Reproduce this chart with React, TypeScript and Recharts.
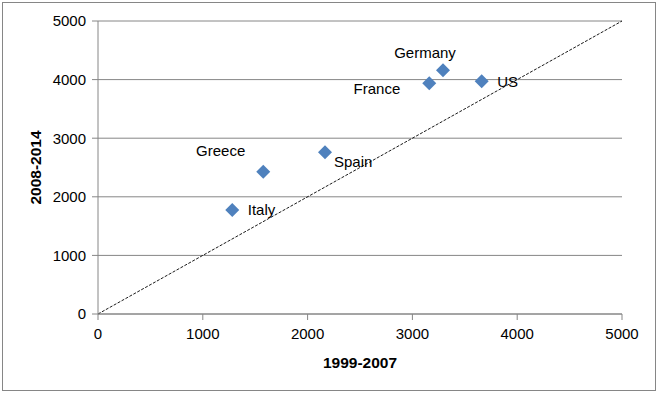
import React from 'react';
import { ScatterChart, Scatter, XAxis, YAxis, CartesianGrid, ReferenceLine } from 'recharts';

const countries = ['Italy', 'Greece', 'Spain', 'France', 'Germany', 'US'];
const period1999_2007 = [1281, 1577, 2166, 3161, 3292, 3661];
const period2008_2014 = [1775, 2428, 2759, 3937, 4159, 3971];
const axisTicks = [0, 1000, 2000, 3000, 4000, 5000];

const data = countries.map((name, i) => ({ name, x: period1999_2007[i], y: period2008_2014[i] }));

const labelPlacement: Record<string, { dx: number; dy: number; anchor: 'start' | 'middle' | 'end' }> = {
  Italy: { dx: 15.5, dy: 0, anchor: 'start' },
  Greece: { dx: -18, dy: -21.5, anchor: 'end' },
  Spain: { dx: 9, dy: 9.5, anchor: 'start' },
  France: { dx: -29, dy: 5, anchor: 'end' },
  Germany: { dx: -18, dy: -18, anchor: 'middle' },
  US: { dx: 15.5, dy: 0.5, anchor: 'start' },
};

const FONT = "'Liberation Sans', Arial, sans-serif";
const GRAY = '#868686';

const Diamond = (props: any) => {
  const { cx, cy, payload } = props;
  const r = 7;
  const p = labelPlacement[payload.name];
  return (
    <g>
      <polygon
        points={`${cx},${cy - r} ${cx + r},${cy} ${cx},${cy + r} ${cx - r},${cy}`}
        fill="#4F81BD"
      />
      <text
        x={cx + p.dx}
        y={cy + p.dy}
        textAnchor={p.anchor}
        dominantBaseline="central"
        fontFamily={FONT}
        fontSize={15}
        fill="#000"
      >
        {payload.name}
      </text>
    </g>
  );
};

export default function App() {
  return (
    <div style={{ position: 'absolute', left: 0, top: 0, width: 661, height: 396, background: '#fff' }}>
      <div
        style={{
          position: 'absolute',
          left: 2,
          top: 2,
          width: 654,
          height: 389,
          border: `1px solid ${GRAY}`,
          boxSizing: 'border-box',
        }}
      />
      <ScatterChart
        width={661}
        height={396}
        margin={{ top: 21, right: 39, bottom: 22, left: 20 }}
        style={{ position: 'absolute', left: 0, top: 0 }}
      >
        <CartesianGrid vertical={false} stroke={GRAY} strokeWidth={1} />
        <XAxis
          type="number"
          dataKey="x"
          domain={[0, 5000]}
          ticks={axisTicks}
          interval={0}
          height={60}
          tickSize={6}
          tickMargin={8}
          axisLine={{ stroke: GRAY }}
          tickLine={{ stroke: GRAY }}
          tick={{ fill: '#000', fontSize: 15, fontFamily: FONT }}
          label={{
            value: '1999-2007',
            position: 'insideBottom',
            offset: 6,
            style: { fill: '#000', fontSize: 15.5, fontWeight: 'bold', fontFamily: FONT },
          }}
        />
        <YAxis
          type="number"
          dataKey="y"
          domain={[0, 5000]}
          ticks={axisTicks}
          interval={0}
          width={78}
          tickSize={6}
          tickMargin={6}
          axisLine={{ stroke: GRAY }}
          tickLine={{ stroke: GRAY }}
          tick={{ fill: '#000', fontSize: 15, fontFamily: FONT }}
          label={{
            value: '2008-2014',
            angle: -90,
            position: 'insideLeft',
            offset: 15,
            style: { textAnchor: 'middle', fill: '#000', fontSize: 15.5, fontWeight: 'bold', fontFamily: FONT },
          }}
        />
        <ReferenceLine
          segment={[
            { x: 0, y: 0 },
            { x: 5000, y: 5000 },
          ]}
          stroke="#000"
          strokeWidth={0.9}
          strokeDasharray="3 1.5"
          ifOverflow="visible"
        />
        <Scatter data={data} shape={Diamond} isAnimationActive={false} />
      </ScatterChart>
    </div>
  );
}
